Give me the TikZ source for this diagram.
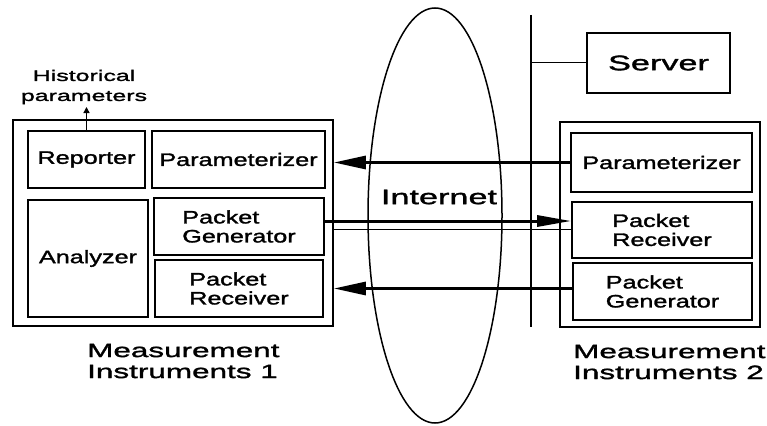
\documentclass[tikz,border=0pt]{standalone}
\usepackage{fontspec}
\setmainfont{Liberation Sans}
\newfontfamily\boxf[FakeStretch=1.4,FakeBold=1.6]{Liberation Sans}
\newfontfamily\widef[FakeStretch=1.63,FakeBold=1.6]{Liberation Sans}
\usetikzlibrary{arrows.meta}
\begin{document}
\begin{tikzpicture}[x=1pt,y=-1pt,
  blk/.style={draw, line width=1.6pt, inner sep=0pt, align=left,
    font={\boxf\fontsize{18}{19}\selectfont}},
  outer/.style={draw, line width=1.6pt, inner sep=0pt},
  bigarr/.style={line width=3pt, -{Triangle[length=32pt,width=13pt]}},
  lbl/.style={inner sep=0pt, align=left, font={\widef\fontsize{19.3}{21}\selectfont}}
]
\useasboundingbox (0,0) rectangle (767,425);
\fill[white] (0,0) rectangle (767,425);

% Internet cloud
\draw[line width=1.5pt] (435,215.5) ellipse [x radius=67, y radius=207.5];
\node[inner sep=0pt, font={\widef\fontsize{21}{23}\selectfont}] (net) at (439,197) {Internet};

% bus line and server
\coordinate (bt) at (531,15);
\coordinate (bb) at (531,327);
\draw[line width=1.8pt] (bt) -- (bb);
\node[outer, minimum width=143pt, minimum height=60pt, font={\widef\fontsize{21}{23}\selectfont}] (server) at (658.5,63) {Server};
\draw[line width=1pt] (server.west) -- (server.west -| bt);

% left instrument
\node[outer, minimum width=320pt, minimum height=206pt] (lout) at (173,223) {};
\node[blk, minimum width=117pt, minimum height=57pt] (rep) at (86.5,159.5) {Reporter};
\node[blk, minimum width=173pt, minimum height=57pt] (lpar) at (238.5,159.5) {Parameterizer};
\node[blk, minimum width=120pt, minimum height=117pt] (ana) at (88,258.5) {Analyzer};
\node[blk, minimum width=170pt, minimum height=57pt] (lgen) at (239,226.5) {Packet\\Generator};
\node[blk, minimum width=168pt, minimum height=57pt] (lrec) at (239,288.5) {Packet\\Receiver};

% historical parameters
\node[inner sep=0pt, align=center, font={\widef\fontsize{15.3}{20}\selectfont}] (hist) at (84,87) {Historical\\parameters};
\coordinate (histin) at (86.5,107);
\draw[line width=1.3pt, -{Triangle[length=6pt,width=6pt]}] (rep.north) -- (histin);

% right instrument
\node[outer, minimum width=200pt, minimum height=205pt] (rout) at (660,224.5) {};
\node[blk, minimum width=181pt, minimum height=59pt] (rpar) at (661.5,162.5) {Parameterizer};
\node[blk, minimum width=180pt, minimum height=56pt] (rrec) at (662,230) {Packet\\Receiver};
\node[blk, minimum width=179pt, minimum height=57pt] (rgen) at (662.5,291.5) {Packet\\Generator};

% connectors
\draw[bigarr] (rpar.west) -- (rpar.west -| lout.east);
\draw[line width=3pt, -{Triangle[length=34pt,width=11pt]}] ([yshift=5.5pt]lgen.east) -- ([yshift=5.5pt]lgen.east -| rrec.west);
\draw[line width=0.9pt] ([yshift=-2.5pt]lgen.east -| lout.east) -- ([yshift=-2.5pt]lgen.east -| rrec.west);
\draw[bigarr] (rgen.west |- lrec.east) -- (lrec.east -| lout.east);

% captions
\node[lbl, anchor=west] (cap1) at (87,361) {Measurement\\Instruments 1};
\node[lbl, anchor=west] (cap2) at (573,362) {Measurement\\Instruments 2};
\end{tikzpicture}
\end{document}
